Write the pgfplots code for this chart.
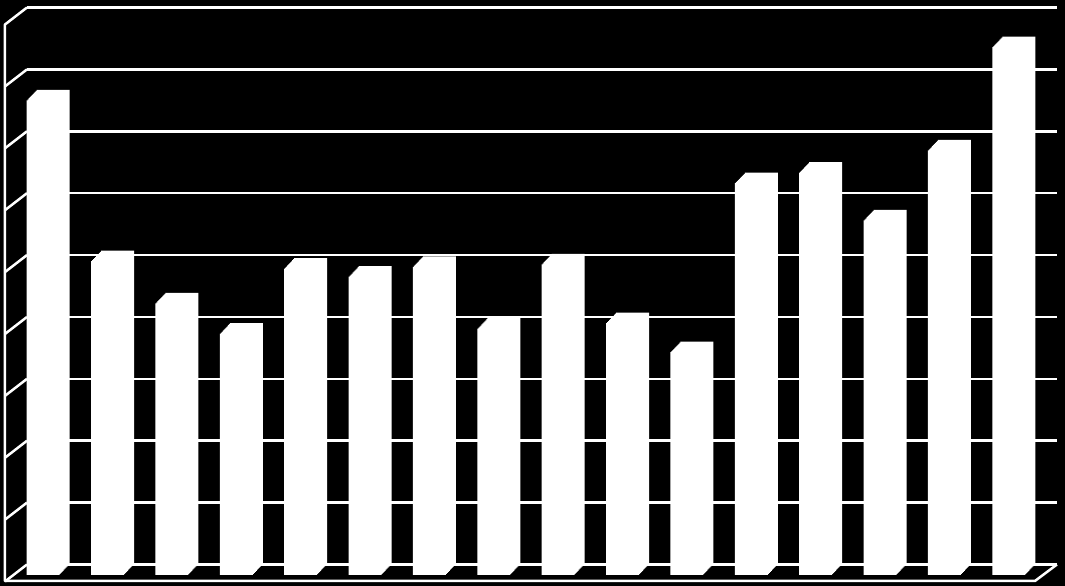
\documentclass[border=0pt]{standalone}
\usepackage{pgfplots}
\pgfplotsset{compat=1.18}
\usepackage{pgfplotstable}
\pgfplotstableread{
x y
1 7.67
2 5.07
3 4.39
4 3.90
5 4.95
6 4.82
7 4.98
8 3.98
9 5.02
10 4.07
11 3.60
12 6.33
13 6.50
14 5.73
15 6.86
16 8.53
}\data
\begin{document}
\begin{tikzpicture}
\path[use as bounding box, fill=black] (0,0) rectangle (1065pt,586pt);
\begin{axis}[
  at={(27pt,21.5pt)}, anchor=south west,
  scale only axis, width=1030pt, height=557pt,
  xmin=0.5, xmax=16.5, ymin=0, ymax=9,
  ytick={0,1,...,9}, xtick=\empty, yticklabels={},
  axis line style={draw=none}, tick style={draw=none},
  ymajorgrids, grid style={white, line width=2.5pt},
  clip=false,
]
\draw[white, line width=2.5pt, line join=round]
  (axis cs:0.5,9) -- ++(-22pt,-17pt)
  -- ([shift={(-22pt,-16.5pt)}]axis cs:0.5,0)
  -- ([shift={(-22pt,-16.5pt)}]axis cs:16.5,0)
  -- (axis cs:16.5,0);
\pgfplotsinvokeforeach{0,...,8}{
  \draw[white, line width=2.5pt] (axis cs:0.5,#1) -- ++(-22pt,-17pt);
}
\pgfplotsinvokeforeach{0,...,10}{
  \addplot[ybar, fill=white, draw=none, bar width=33pt, bar shift=-6pt,
    xshift=-#1pt, yshift=-1.05*#1pt] table[x=x,y=y]{\data};
}
\end{axis}
\end{tikzpicture}
\end{document}
